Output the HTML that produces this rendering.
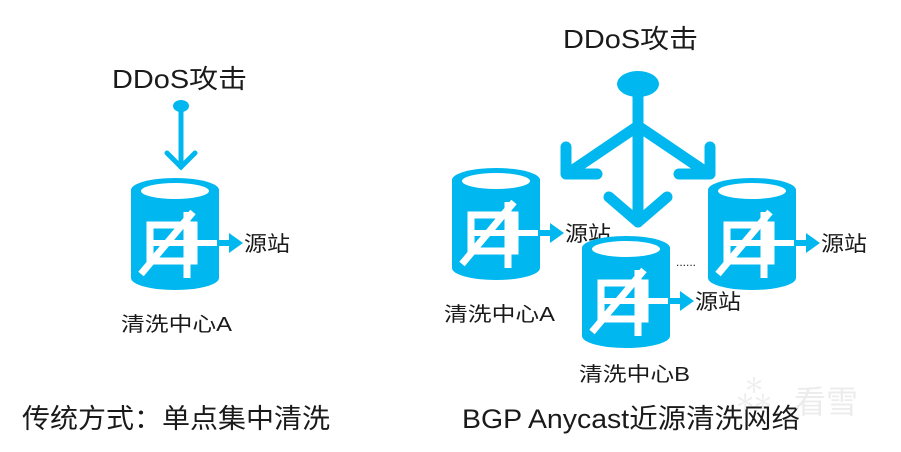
<!DOCTYPE html>
<html><head><meta charset="utf-8"><style>
html,body{margin:0;padding:0;background:#fff;}
svg{display:block;}
text{font-family:"Liberation Sans","Noto Sans CJK SC",sans-serif;fill:#1a1a1a;}
</style></head><body>
<svg width="901" height="452" viewBox="0 0 901 452" xmlns="http://www.w3.org/2000/svg">
<defs>
<g id="cyl">
  <path d="M0,12 A44,12 0 0 1 88,12 L88,100 A44,12 0 0 1 0,100 Z" fill="#00b8ef"/>
  <ellipse cx="44" cy="13" rx="34" ry="8" fill="#fff"/>
  <g fill="none" stroke="#fff" stroke-width="7">
    <rect x="19" y="47" width="44" height="36"/>
    <line x1="10" y1="96" x2="62" y2="34"/>
    <line x1="56" y1="34" x2="56" y2="100"/>
    <line x1="19" y1="65" x2="88" y2="65" stroke-width="6"/>
  </g>
  <line x1="86" y1="65" x2="100" y2="65" stroke="#00b8ef" stroke-width="6"/>
  <polygon points="98,55 112,65 98,75" fill="#00b8ef"/>
</g>
</defs>

<!-- left -->
<text x="112" y="88" font-size="26" textLength="135" lengthAdjust="spacingAndGlyphs">DDoS攻击</text>
<ellipse cx="181" cy="106" rx="8" ry="6" fill="#00b8ef"/>
<g stroke="#00b8ef" stroke-width="5" fill="none" stroke-linecap="round">
  <line x1="181" y1="106" x2="181" y2="167"/>
  <polyline points="167,153 181,167 195,153"/>
</g>
<use href="#cyl" x="131" y="178"/>
<text x="244" y="251" font-size="21" textLength="46" lengthAdjust="spacingAndGlyphs">源站</text>
<text x="121" y="331" font-size="20" textLength="111" lengthAdjust="spacingAndGlyphs">清洗中心A</text>
<text x="22" y="428" font-size="27" textLength="308" lengthAdjust="spacingAndGlyphs">传统方式：单点集中清洗</text>

<!-- right -->
<text x="563" y="48" font-size="26" textLength="135" lengthAdjust="spacingAndGlyphs">DDoS攻击</text>
<ellipse cx="638" cy="84" rx="21" ry="13" fill="#00b8ef"/>
<g stroke="#00b8ef" stroke-width="11" fill="none" stroke-linecap="round" stroke-linejoin="round">
  <line x1="638" y1="90" x2="638" y2="222"/>
  <polyline points="609,197 638,222 667,197"/>
  <line x1="638" y1="126" x2="570" y2="172"/>
  <polyline points="566,147 566,174 597,174"/>
  <line x1="638" y1="126" x2="706" y2="172"/>
  <polyline points="710,147 710,174 679,174"/>
</g>
<use href="#cyl" x="452" y="168"/>
<text x="565" y="241" font-size="21" textLength="46" lengthAdjust="spacingAndGlyphs">源站</text>
<text x="444" y="321" font-size="20" textLength="111" lengthAdjust="spacingAndGlyphs">清洗中心A</text>
<use href="#cyl" x="582" y="236"/>
<text x="695" y="309" font-size="21" textLength="46" lengthAdjust="spacingAndGlyphs">源站</text>
<text x="579" y="381" font-size="20" textLength="111" lengthAdjust="spacingAndGlyphs">清洗中心B</text>
<text x="676" y="266" font-size="12" fill="#555">......</text>
<use href="#cyl" x="708" y="178"/>
<text x="821" y="251" font-size="21" textLength="46" lengthAdjust="spacingAndGlyphs">源站</text>
<text x="462" y="428" font-size="27" textLength="338" lengthAdjust="spacingAndGlyphs">BGP Anycast近源清洗网络</text>
<text x="734" y="408" font-size="40" style="fill:#eeeeee">⁂</text>
<text x="794" y="413" font-size="32" style="fill:#ececec">看雪</text>
</svg>
</body></html>
